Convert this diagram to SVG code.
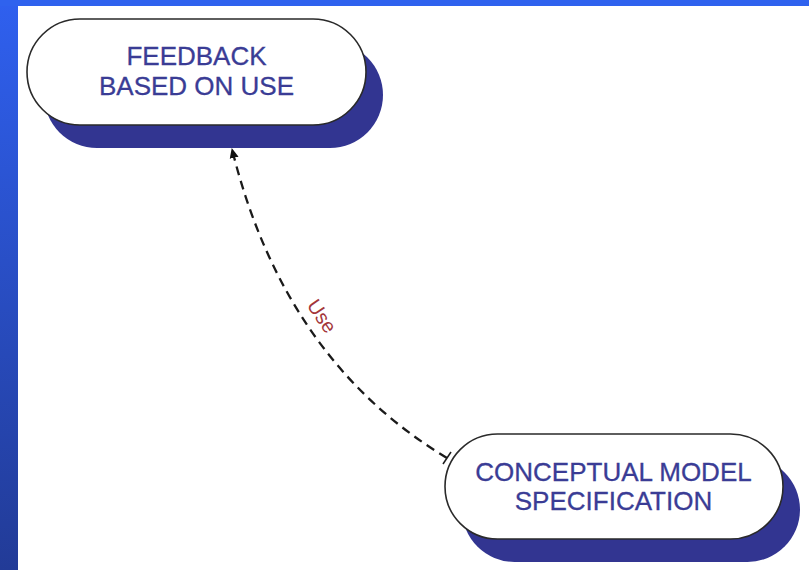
<svg xmlns="http://www.w3.org/2000/svg" width="809" height="570" viewBox="0 0 809 570">
<defs>
<linearGradient id="side" x1="0" y1="0" x2="0" y2="1">
<stop offset="0" stop-color="#2f60ef"/>
<stop offset="1" stop-color="#223b97"/>
</linearGradient>
<marker id="arr" viewBox="0 0 10 10" refX="9" refY="5" markerWidth="10" markerHeight="10" markerUnits="userSpaceOnUse" orient="auto">
<path d="M0,0.5 L10,5 L0,9.5 Z" fill="#111"/>
</marker>
</defs>
<style>
.shadow{fill:#323591}
.pill{fill:#fff;stroke:#2a2a2a;stroke-width:1.6}
.lbl{font-family:"Liberation Sans",Arial,sans-serif;font-size:26px;fill:#3a3c95;stroke:#3a3c95;stroke-width:0.3;text-anchor:middle}
.edge{fill:none;stroke:#1a1a1a;stroke-width:2.3;stroke-dasharray:9 6}
.elbl{font-family:"Liberation Sans",Arial,sans-serif;font-size:20px;fill:#a3363a;text-anchor:middle}
</style>
<rect x="0" y="0" width="809" height="570" fill="#fff"/>
<rect x="0" y="0" width="18" height="570" fill="url(#side)"/>
<rect x="0" y="0" width="809" height="6" fill="#2f62ee"/>

<g id="feedback">
<rect class="shadow" x="44" y="42" width="339" height="106" rx="53"/>
<rect class="pill" x="27" y="19" width="339" height="106" rx="53"/>
<text class="lbl" x="196.5" y="65">FEEDBACK</text>
<text class="lbl" x="196.5" y="95">BASED ON USE</text>
</g>

<g id="conceptual">
<rect class="shadow" x="462" y="457" width="338" height="105" rx="52.5"/>
<rect class="pill" x="445" y="434" width="338" height="105" rx="52.5"/>
<text class="lbl" x="613.5" y="481">CONCEPTUAL MODEL</text>
<text class="lbl" x="613.5" y="510">SPECIFICATION</text>
</g>

<g id="connectors">
<path class="edge" d="M447,458 Q284,360 232,149" marker-end="url(#arr)"/>
<path d="M443,464 L451,452" stroke="#1a1a1a" stroke-width="1.5"/>
<text class="elbl" transform="translate(322,316) rotate(56)" y="7">Use</text>
</g>
</svg>
